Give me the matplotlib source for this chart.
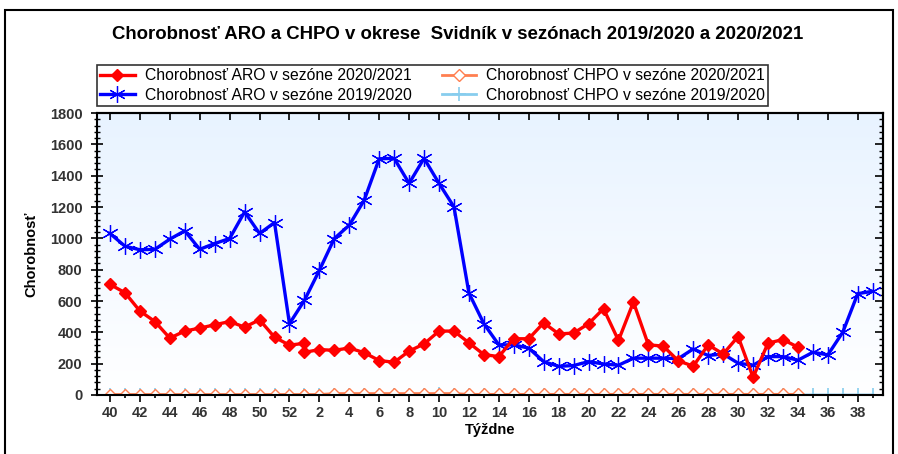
import numpy as np
import matplotlib
matplotlib.use('Agg')
import matplotlib.pyplot as plt
from matplotlib.colors import LinearSegmentedColormap
from matplotlib.patches import Rectangle

plt.rcParams['font.family'] = ['Liberation Sans', 'DejaVu Sans']

# categories on the x axis (season weeks)
weeks = list(range(40, 53)) + list(range(1, 40))

# season 2019/2020
aro_1920 = [1031, 950, 927, 930, 995, 1048, 930, 967, 999, 1169, 1031, 1101, 455,
            604, 796, 999, 1084, 1244, 1508, 1511, 1351, 1511, 1351, 1201, 651, 455,
            320, 320, 299, 213, 183, 188, 213, 198, 190, 235, 235, 235, 232, 294,
            252, 262, 203, 190, 245, 245, 222, 273, 256, 401, 647, 662]
chpo_1920 = [0] * 52
chpo_1920[weeks.index(10)] = 8

# season 2020/2021 (has week 53)
weeks_2021 = list(range(40, 54)) + list(range(1, 35))
aro_2021 = [706, 653, 536, 469, 363, 408, 427, 448, 469, 433, 480, 369, 318, 330,
            272, 290, 285, 300, 270, 220, 209, 280, 326, 408, 408, 333, 258, 245,
            359, 359, 461, 390, 395, 455, 551, 348, 593, 320, 312, 218, 184, 320,
            262, 373, 113, 331, 354, 305]
chpo_2021 = [3] * 16 + [9] * 9 + [4] * 23

pos = {w: i for i, w in enumerate(weeks)}
pos[53] = pos[1]
x1920 = [pos[w] for w in weeks]
x2021 = [pos[w] for w in weeks_2021]

fig = plt.figure(figsize=(8.98, 4.54), dpi=100)
ax = fig.add_axes([0.108, 0.13, 0.875, 0.621])

grad = LinearSegmentedColormap.from_list('bg', ['#ffffff', '#e8f3ff'])
ax.imshow(np.linspace(0, 1, 256).reshape(-1, 1), extent=[0, 1, 0, 1],
          transform=ax.transAxes, cmap=grad, aspect='auto', origin='lower', zorder=0)

l1, = ax.plot(x2021, aro_2021, color='#ff0000', lw=2.4, marker='D', ms=6.5,
              label='Chorobnosť ARO v sezóne 2020/2021', zorder=4)
l2, = ax.plot(x1920, aro_1920, color='#0000ff', lw=2.4, marker=(6, 2, 0), ms=12,
              mew=0.9, label='Chorobnosť ARO v sezóne 2019/2020', zorder=3)
l4, = ax.plot(x1920, chpo_1920, color='#87cdee', lw=2, marker='+', ms=10, mew=1.2,
              label='Chorobnosť CHPO v sezóne 2019/2020', zorder=2)
l3, = ax.plot(x2021, chpo_2021, color='#ff7f50', lw=2, marker='D', ms=6.5,
              mfc='white', mew=1.0, label='Chorobnosť CHPO v sezóne 2020/2021', zorder=2)

ax.set_xlim(-0.87, 51.67)
ax.set_ylim(0, 1800)

major = [i for i, w in enumerate(weeks) if w % 2 == 0]
ax.set_xticks(major)
ax.set_xticklabels([str(weeks[i]) for i in major])
ax.set_xticks(range(len(weeks)), minor=True)
ax.set_yticks(range(0, 1801, 200))
ax.set_yticks(range(0, 1801, 40), minor=True)

ax.tick_params(axis='x', which='major', direction='out', length=5, width=1.2,
               labelsize=10.5, pad=3)
ax.tick_params(axis='x', which='minor', direction='out', length=2.5, width=1.2)
ax.tick_params(axis='y', which='major', direction='inout', length=9, width=1.2,
               labelsize=10.5, pad=6)
ax.tick_params(axis='y', which='minor', direction='inout', length=5, width=1)
for lab in ax.get_xticklabels() + ax.get_yticklabels():
    lab.set_fontweight('bold')
    lab.set_color('#333333')

top = ax.secondary_xaxis('top')
top.set_xticks(major)
top.tick_params(direction='in', length=5, width=1.2, labeltop=False)
right = ax.secondary_yaxis('right')
right.set_yticks(range(0, 1801, 200))
right.set_yticks(range(0, 1801, 40), minor=True)
right.tick_params(which='major', direction='in', length=6, width=1.2, labelright=False)
right.tick_params(which='minor', direction='in', length=3, width=1)

for sp in list(ax.spines.values()) + [top.spines['top'], right.spines['right']]:
    sp.set_linewidth(1.5)

ax.set_xlabel('Týždne', fontsize=10.5, fontweight='bold', labelpad=2)
ax.set_ylabel('Chorobnosť', fontsize=10.5, fontweight='bold', labelpad=8)

fig.text(0.51, 0.925, 'Chorobnosť ARO a CHPO v okrese  Svidník v sezónach 2019/2020 a 2020/2021',
         ha='center', va='center', fontsize=13.4, fontweight='bold')

leg = fig.legend([l1, l2, l3, l4], [h.get_label() for h in (l1, l2, l3, l4)],
                 ncol=2, loc='upper left', bbox_to_anchor=(0.108, 0.857),
                 borderaxespad=0, fontsize=11.3, frameon=True,
                 fancybox=False, edgecolor='black', handlelength=2.2, borderpad=0.2,
                 labelspacing=0.3, columnspacing=1.9, handletextpad=0.65)
leg.get_frame().set_linewidth(1.2)

fig.patches.append(Rectangle((0.006, -0.01), 0.988, 0.988, transform=fig.transFigure,
                             fill=False, edgecolor='black', lw=1.5))

plt.savefig('out.png', dpi=100)
